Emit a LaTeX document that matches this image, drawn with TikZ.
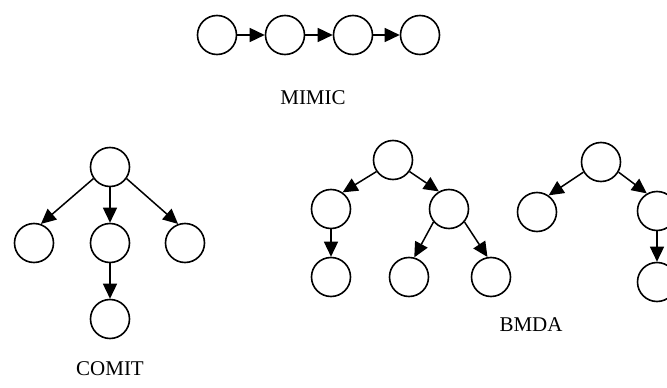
\documentclass[tikz,border=0pt]{standalone}
\usepackage{fontspec}
\setmainfont{Liberation Serif}
\usepackage{tikz}
\usetikzlibrary{arrows.meta}

\begin{document}
\begin{tikzpicture}[x=1pt, y=-1pt, state/.style={circle, draw, line width=1.6pt, minimum size=39pt, inner sep=0pt}, arr/.style={line width=1.5pt, -{Triangle[length=15pt, width=14pt]}}, lbl/.style={font=\fontsize{21}{24}\selectfont}]

\clip (0,0) rectangle (667,388);

% chain
\node[state] (m1) at (217,35) {};
\node[state] (m2) at (285,35) {};
\node[state] (m3) at (353,35) {};
\node[state] (m4) at (420,35) {};
\node[lbl] (mimic) at (313,98) {MIMIC};

\draw[arr] (m1) -- (m2);
\draw[arr] (m2) -- (m3);
\draw[arr] (m3) -- (m4);

% first tree
\node[state] (c0) at (110,167) {};
\node[state] (c1) at (34,243) {};
\node[state] (c2) at (110,243) {};
\node[state] (c3) at (185,243) {};
\node[state] (c4) at (110,319) {};
\node[lbl] (comit) at (110,369) {COMIT};

\draw[arr] (c0.215) -- (c1.70);
\draw[arr] (c0.south) -- (c2.north);
\draw[arr] (c0.325) -- (c3.110);
\draw[arr] (c2.south) -- (c4.north);

% second tree
\node[state] (b0) at (393,160) {};
\node[state] (b1) at (331,209) {};
\node[state] (b2) at (449,209) {};
\node[state] (b3) at (331,277) {};
\node[state] (b4) at (409,277) {};
\node[state] (b5) at (491,277) {};

\draw[arr] (b0.215) -- (b1.55);
\draw[arr] (b0.325) -- (b2.120);
\draw[arr] (b1.south) -- (b3.north);
\draw[arr] (b2.220) -- (b4.75);
\draw[arr] (b2.320) -- (b5.100);

% third tree
\node[state] (r0) at (601,162) {};
\node[state] (r1) at (537,212) {};
\node[state] (r2) at (657,211) {};
\node[state] (r3) at (657,282) {};

\draw[arr] (r0.210) -- (r1.55);
\draw[arr] (r0.330) -- (r2.120);
\draw[arr] (r2.south) -- (r3.north);

\node[lbl, anchor=west] (bmda) at (496,325) {BMDA};

\end{tikzpicture}
\end{document}
